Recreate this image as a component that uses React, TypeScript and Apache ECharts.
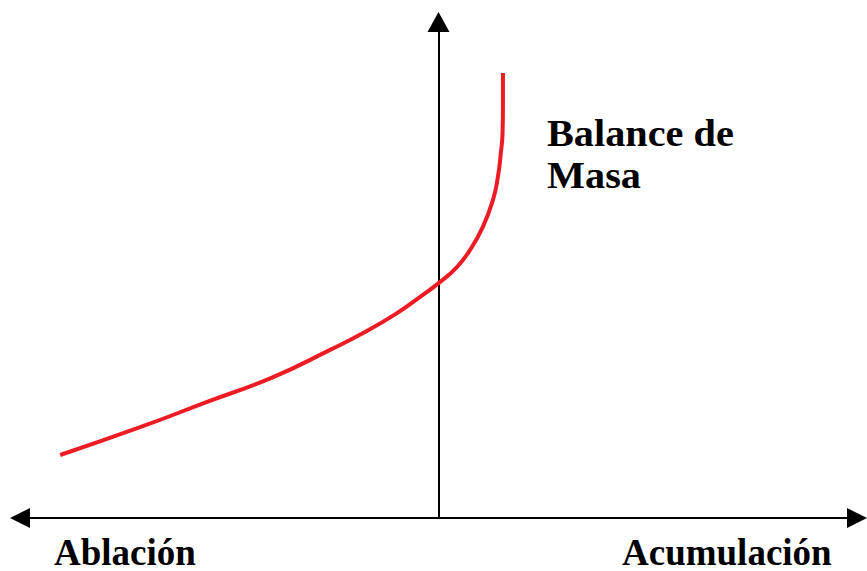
import React, { useEffect, useRef } from "react";
import * as echarts from "echarts";

// Curve of mass balance (arbitrary units, vertical axis at x = 0)
const curveX = [-9.04, -7.13, -5.53, -3.95, -2.59, -1.8, -0.99, -0.44, 0.01, 0.44, 0.75, 1.06, 1.3, 1.42, 1.49, 1.53, 1.54, 1.54];
const curveY = [1.27, 1.83, 2.34, 2.84, 3.39, 3.73, 4.13, 4.46, 4.74, 5.06, 5.4, 5.87, 6.41, 6.88, 7.36, 7.75, 8.3, 8.97];

const xRange = [-10, 10];
const yRange = [0, 10];

const curveLabel = ["Balance de", "Masa"];
const leftLabel = "Ablación";
const rightLabel = "Acumulación";

export default function App() {
  const ref = useRef<HTMLDivElement>(null);
  useEffect(() => {
    if (!ref.current) return;
    const chart = echarts.init(ref.current, undefined, { renderer: "svg" });
    const font = "'Liberation Serif', 'Times New Roman', serif";
    const textEl = (x: number, y: number, text: string, size: number, sx: number) => ({
      type: "text",
      x,
      y,
      scaleX: sx,
      style: {
        text,
        fill: "#000",
        font: `bold ${size}px ${font}`,
        align: "left",
        verticalAlign: "middle",
      },
    });
    chart.setOption({
      animation: false,
      backgroundColor: "#fff",
      grid: { left: 20, right: 10, top: 22, bottom: 53, containLabel: false },
      xAxis: {
        type: "value",
        min: xRange[0],
        max: xRange[1],
        axisLine: {
          show: true,
          onZero: false,
          symbol: ["triangle", "triangle"],
          symbolSize: [20, 20],
          lineStyle: { color: "#000", width: 2 },
        },
        axisTick: { show: false },
        axisLabel: { show: false },
        splitLine: { show: false },
      },
      yAxis: {
        type: "value",
        min: yRange[0],
        max: yRange[1],
        position: "left",
        offset: -418.5,
        axisLine: {
          show: true,
          onZero: false,
          symbol: ["none", "triangle"],
          symbolSize: [22, 20],
          lineStyle: { color: "#000", width: 2 },
        },
        axisTick: { show: false },
        axisLabel: { show: false },
        splitLine: { show: false },
      },
      series: [
        {
          type: "line",
          data: curveX.map((x, i) => [x, curveY[i]]),
          smooth: 0.5,
          showSymbol: false,
          lineStyle: { color: "#ed1c24", width: 4 },
        },
      ],
      graphic: [
        textEl(547, 132.5, curveLabel[0], 38, 1.06),
        textEl(547, 174.5, curveLabel[1], 38, 1.06),
        textEl(54, 552, leftLabel, 37, 1),
        textEl(622, 552, rightLabel, 37, 1),
      ],
    });
    return () => chart.dispose();
  }, []);
  return <div ref={ref} style={{ width: 867, height: 571, position: "absolute", left: 0, top: 0 }} />;
}
